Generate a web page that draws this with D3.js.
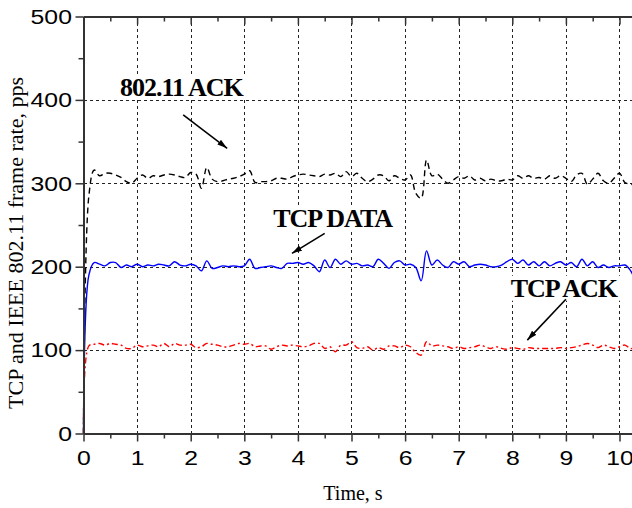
<!DOCTYPE html>
<html>
<head>
<meta charset="utf-8">
<script src="https://cdn.jsdelivr.net/npm/d3@7"></script>
<style>
  html, body { margin: 0; padding: 0; background: #fff; }
  svg { display: block; }
</style>
</head>
<body>
<svg id="chart" width="632" height="508"></svg>
<script>
// Frame rates (pps) sampled every 0.1 s, starting at t = 0
const sampleStep = 0.1;

const ieeeAck = [0, 285, 316, 309, 312, 312, 310, 307, 302, 300,
  306, 310, 306, 309, 308, 310, 311, 310, 308, 307,
  313, 311, 294, 319, 305, 302, 303, 305, 306, 308,
  311, 315, 301, 302, 302, 303, 306, 306, 305, 308,
  310, 311, 310, 309, 308, 311, 310, 312, 308, 314,
  308, 312, 306, 302, 305, 310, 309, 303, 309, 306,
  304, 310, 288, 282, 328, 309, 311, 305, 300, 304,
  308, 306, 309, 304, 306, 303, 305, 303, 303, 305,
  304, 309, 306, 309, 306, 307, 305, 309, 306, 309,
  306, 302, 310, 312, 299, 305, 312, 303, 300, 306,
  312, 301, 299, 298];

const tcpData = [0, 190, 205, 203, 201, 205, 205, 199, 202, 200,
  203, 200, 202, 201, 203, 202, 201, 206, 202, 201,
  203, 201, 195, 207, 198, 199, 201, 200, 201, 200,
  201, 209, 198, 199, 200, 201, 199, 198, 204, 204,
  205, 203, 205, 201, 194, 208, 199, 209, 203, 207,
  203, 204, 201, 202, 200, 209, 204, 198, 205, 207,
  202, 203, 199, 183, 219, 202, 208, 202, 199, 206,
  203, 206, 200, 202, 203, 202, 200, 200, 202, 206,
  209, 204, 208, 202, 206, 201, 206, 201, 204, 206,
  202, 205, 200, 209, 201, 206, 199, 202, 199, 201,
  201, 202, 196, 182];

const tcpAck = [0, 105, 107, 108, 106, 108, 107, 106, 102, 102,
  106, 104, 105, 106, 104, 108, 104, 108, 106, 106,
  107, 103, 104, 108, 107, 106, 104, 104, 106, 108,
  107, 108, 104, 105, 105, 101, 104, 106, 105, 106,
  105, 104, 105, 108, 108, 102, 104, 98, 106, 106,
  110, 103, 102, 104, 100, 103, 101, 105, 105, 103,
  106, 104, 97, 94, 110, 105, 106, 105, 104, 102,
  104, 102, 103, 104, 106, 104, 102, 104, 102, 101,
  103, 102, 101, 103, 102, 102, 102, 102, 102, 103,
  102, 103, 104, 106, 108, 106, 103, 106, 104, 102,
  104, 106, 102, 102];

const xTicks = [0, 1, 2, 3, 4, 5, 6, 7, 8, 9, 10];
const yTicks = [0, 100, 200, 300, 400, 500];
const xMinorTicks = [0.5, 1.5, 2.5, 3.5, 4.5, 5.5, 6.5, 7.5, 8.5, 9.5, 10.5];
const yMinorTicks = [50, 150, 250, 350, 450];

const seriesLabels = ["802.11 ACK", "TCP DATA", "TCP ACK"];
const xTitle = "Time, s";
const yTitle = "TCP and IEEE 802.11 frame rate, pps";

const svg = d3.select("#chart");
const W = 632, H = 508;

const x = d3.scaleLinear().domain([0, 10.5]).range([83.5, 646.3]);
const y = d3.scaleLinear().domain([0, 500]).range([433.5, 16.5]);

const sansFont = "'Liberation Sans', Arial, Helvetica, sans-serif";
const serifFont = "'Liberation Serif', 'Times New Roman', Times, serif";
// tick numerals are drawn slightly widened
const tickStretch = 1.18;

// Dashed grid
const grid = svg.append("g").attr("class", "grid")
  .attr("stroke", "#222").attr("stroke-width", 1).attr("stroke-dasharray", "3,3")
  .attr("shape-rendering", "crispEdges");
grid.selectAll("line.v").data(xTicks.filter(d => d > 0)).join("line")
  .attr("class", "v")
  .attr("x1", d => Math.round(x(d)) + 0.5).attr("x2", d => Math.round(x(d)) + 0.5)
  .attr("y1", y(500)).attr("y2", y(0));
grid.selectAll("line.h").data(yTicks.filter(d => d > 0 && d < 500)).join("line")
  .attr("class", "h")
  .attr("y1", d => Math.round(y(d)) + 0.5).attr("y2", d => Math.round(y(d)) + 0.5)
  .attr("x1", x(0)).attr("x2", W);

// Series lines
const line = d3.line()
  .x((d, i) => x(i * sampleStep))
  .y(d => y(d))
  .curve(d3.curveCatmullRom.alpha(0.5));

const series = [
  { values: ieeeAck, color: "#000000", dash: "6,4" },
  { values: tcpData, color: "#0000ff", dash: null },
  { values: tcpAck, color: "#ff0000", dash: "6,3,2,3" }
];

svg.append("g").selectAll("path").data(series).join("path")
  .attr("d", d => line(d.values))
  .attr("fill", "none")
  .attr("stroke", d => d.color)
  .attr("stroke-width", 1.4)
  .attr("stroke-dasharray", d => d.dash)
  .attr("stroke-linejoin", "round");

// Axes
function styleAxis(g) {
  g.select(".domain").attr("stroke", "#333").attr("stroke-width", 2);
  g.selectAll(".tick line").attr("stroke", "#333").attr("stroke-width", 1.5);
}
function styleLabels(g) {
  g.selectAll(".tick text").attr("fill", "#000")
    .style("font-family", sansFont).style("font-size", "21px");
}

// bottom
svg.append("g").attr("transform", `translate(0,${y(0)})`)
  .call(d3.axisBottom(x).tickValues(xTicks).tickFormat(d3.format("d"))
    .tickSize(8).tickSizeOuter(0).tickPadding(8.5))
  .call(styleAxis)
  .call(styleLabels)
  .call(g => g.selectAll(".tick text").attr("transform", `scale(${tickStretch},1)`));
svg.append("g").attr("transform", `translate(0,${y(0)})`)
  .call(d3.axisBottom(x).tickValues(xMinorTicks).tickSize(5).tickSizeOuter(0).tickFormat(""))
  .call(styleAxis)
  .call(g => g.select(".domain").remove());

// top frame with inward ticks
svg.append("g").attr("transform", `translate(0,${y(500)})`)
  .call(d3.axisBottom(x).tickValues(xTicks).tickSize(8).tickSizeOuter(0).tickFormat(""))
  .call(styleAxis);
svg.append("g").attr("transform", `translate(0,${y(500)})`)
  .call(d3.axisBottom(x).tickValues(xMinorTicks).tickSize(5).tickSizeOuter(0).tickFormat(""))
  .call(styleAxis)
  .call(g => g.select(".domain").remove());

// left
svg.append("g").attr("transform", `translate(${x(0)},0)`)
  .call(d3.axisLeft(y).tickValues(yTicks).tickFormat(d3.format("d"))
    .tickSize(8).tickSizeOuter(0).tickPadding(2))
  .call(styleAxis)
  .call(styleLabels)
  .call(g => g.selectAll(".tick text")
    .attr("x", -11.6 / tickStretch)
    .attr("transform", `scale(${tickStretch},1)`));
svg.append("g").attr("transform", `translate(${x(0)},0)`)
  .call(d3.axisLeft(y).tickValues(yMinorTicks).tickSize(5).tickSizeOuter(0).tickFormat(""))
  .call(styleAxis)
  .call(g => g.select(".domain").remove());

// Axis titles
svg.append("text")
  .attr("x", 353).attr("y", 500)
  .attr("text-anchor", "middle")
  .style("font-family", serifFont).style("font-size", "20px")
  .text(xTitle);

svg.append("text")
  .attr("transform", "translate(23,243) rotate(-90)")
  .attr("text-anchor", "middle")
  .style("font-family", serifFont).style("font-size", "22px")
  .text(yTitle);

// Arrowhead
svg.append("defs").append("marker")
  .attr("id", "arrow")
  .attr("viewBox", "0 0 10 6")
  .attr("refX", 10).attr("refY", 3)
  .attr("markerWidth", 10).attr("markerHeight", 6)
  .attr("markerUnits", "userSpaceOnUse")
  .attr("orient", "auto")
  .append("path").attr("d", "M0,0 L10,3 L0,6 Z").attr("fill", "#000");

// Series annotations: label position (data coords) and arrow from/to (data coords)
const annotations = [
  { text: seriesLabels[0], tx: 0.68, ty: 405, from: [1.86, 382], to: [2.68, 342] },
  { text: seriesLabels[1], tx: 3.54, ty: 248, from: [4.5, 240], to: [3.89, 216] },
  { text: seriesLabels[2], tx: 7.97, ty: 164, from: [9.0, 161], to: [8.28, 112] }
];

const ann = svg.append("g");
annotations.forEach(a => {
  const g = ann.append("g");
  const t = g.append("text")
    .attr("x", x(a.tx)).attr("y", y(a.ty))
    .style("font-family", serifFont).style("font-size", "26px")
    .style("font-weight", "bold").style("letter-spacing", "-1px")
    .text(a.text);
  const bb = t.node().getBBox();
  g.insert("rect", "text")
    .attr("x", bb.x - 2).attr("y", bb.y + 2)
    .attr("width", bb.width + 4).attr("height", bb.height - 4)
    .attr("fill", "#fff");
  g.append("line")
    .attr("x1", x(a.from[0])).attr("y1", y(a.from[1]))
    .attr("x2", x(a.to[0])).attr("y2", y(a.to[1]))
    .attr("stroke", "#000").attr("stroke-width", 1.6)
    .attr("marker-end", "url(#arrow)");
});
</script>
</body>
</html>
